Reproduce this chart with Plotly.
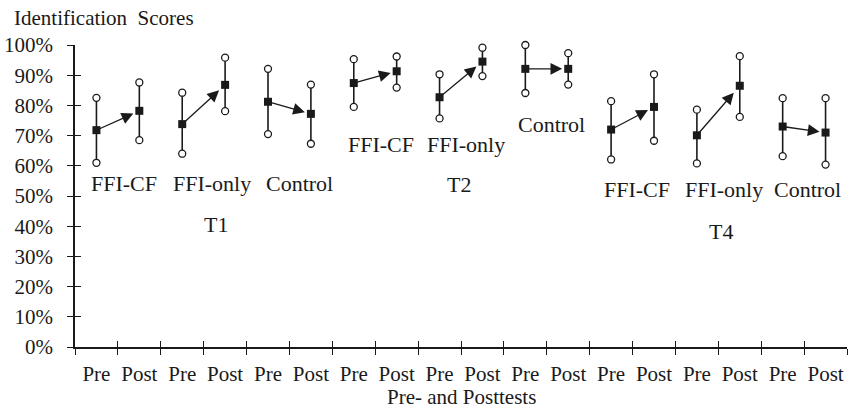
import plotly.graph_objects as go

# ---- data ----
groups = ["FFI-CF", "FFI-only", "Control", "FFI-CF", "FFI-only", "Control", "FFI-CF", "FFI-only", "Control"]
times = ["T1", "T2", "T4"]
phases = ["Pre", "Post"]

pre_mean = [71.8, 73.8, 81.2, 87.4, 82.7, 92.1, 72.0, 70.1, 73.0]
pre_upper = [82.5, 84.2, 92.1, 95.3, 90.3, 100.0, 81.4, 78.6, 82.4]
pre_lower = [61.0, 64.0, 70.5, 79.5, 75.7, 84.1, 62.1, 60.8, 63.2]
post_mean = [78.2, 86.8, 77.2, 91.3, 94.5, 92.1, 79.5, 86.5, 71.0]
post_upper = [87.6, 95.8, 86.9, 96.2, 99.1, 97.3, 90.3, 96.3, 82.4]
post_lower = [68.5, 78.1, 67.3, 85.9, 89.7, 86.9, 68.3, 76.2, 60.4]

y_ticks = [0, 10, 20, 30, 40, 50, 60, 70, 80, 90, 100]
y_ticktext = [f"{v}%" for v in y_ticks]

# ---- label placement (layout only) ----
group_label_y = [54.2, 54.2, 54.2, 66.9, 66.9, 73.8, 52.2, 52.2, 52.2]
group_label_dx = [0.15, 0.2, 0.23, 0.13, 0.12, 0.1, 0.1, 0.13, 0.09]
time_label_y = [40.5, 53.8, 38.4]
time_label_dx = [0.28, -0.05, 0.06]

FONT = "Liberation Serif"
INK = "#1a1a1a"
FS = 21
FS_LABEL = 22

n = len(groups)
cat_x = list(range(2 * n))
cat_text = [phases[i % 2] for i in cat_x]

# build error-bar style vertical lines
line_x, line_y = [], []
end_x, end_y = [], []
mean_x, mean_y = [], []
for g in range(n):
    for k, (m, u, l) in enumerate([(pre_mean[g], pre_upper[g], pre_lower[g]),
                                   (post_mean[g], post_upper[g], post_lower[g])]):
        xi = 2 * g + k
        line_x += [xi, xi, None]
        line_y += [l, u, None]
        end_x += [xi, xi]
        end_y += [l, u]
        mean_x.append(xi)
        mean_y.append(m)

fig = go.Figure()
fig.add_trace(go.Scatter(x=line_x, y=line_y, mode="lines",
                         line=dict(color=INK, width=1.6),
                         showlegend=False, hoverinfo="skip", cliponaxis=False))
fig.add_trace(go.Scatter(x=end_x, y=end_y, mode="markers",
                         marker=dict(symbol="circle", size=7, color="white",
                                     line=dict(color=INK, width=1.3)),
                         showlegend=False, hoverinfo="skip", cliponaxis=False))
fig.add_trace(go.Scatter(x=mean_x, y=mean_y, mode="markers",
                         marker=dict(symbol="square", size=8, color=INK),
                         showlegend=False, cliponaxis=False))
# invisible traces so the overlay axes (crossing ticks, labels) are drawn
fig.add_trace(go.Scatter(x=[0], y=[0], xaxis="x2", yaxis="y2", mode="markers",
                         marker=dict(opacity=0), showlegend=False, hoverinfo="skip"))
fig.add_trace(go.Scatter(x=[0], y=[0], xaxis="x3", yaxis="y", mode="markers",
                         marker=dict(opacity=0), showlegend=False, hoverinfo="skip"))

annotations = []
gap = 0.14
for g in range(n):
    x0, x1 = 2 * g, 2 * g + 1
    y0, y1 = pre_mean[g], post_mean[g]
    tip_x = x1 - gap
    tip_y = y0 + (y1 - y0) * (1 - gap)
    annotations.append(dict(x=tip_x, y=tip_y, ax=x0, ay=y0, xref="x", yref="y",
                            axref="x", ayref="y", showarrow=True, arrowhead=2,
                            arrowsize=1.8, arrowwidth=1.3, arrowcolor=INK,
                            standoff=0, startstandoff=0, text=""))
    annotations.append(dict(x=2 * g + 0.5 + group_label_dx[g], y=group_label_y[g],
                            xref="x", yref="y", text=groups[g], showarrow=False,
                            font=dict(family=FONT, size=FS_LABEL, color=INK)))
for t in range(len(times)):
    annotations.append(dict(x=6 * t + 2.5 + time_label_dx[t], y=time_label_y[t],
                            xref="x", yref="y", text=times[t], showarrow=False,
                            font=dict(family=FONT, size=FS_LABEL, color=INK)))
annotations.append(dict(x=(12 - 75) / 772, y=1.089, xref="paper", yref="paper",
                        xanchor="left", yanchor="middle",
                        text="Identification&nbsp;&nbsp;Scores",
                        showarrow=False, font=dict(family=FONT, size=FS, color=INK)))
annotations.append(dict(x=0.5, y=-0.166, xref="paper", yref="paper",
                        xanchor="center", yanchor="middle", text="Pre- and Posttests",
                        showarrow=False, font=dict(family=FONT, size=FS, color=INK)))

bounds = [i - 0.5 for i in range(2 * n + 1)]
xr = [-0.5, 2 * n - 0.5]

fig.update_layout(
    width=853, height=411,
    margin=dict(l=75, r=6, t=45, b=64, autoexpand=False),
    plot_bgcolor="white", paper_bgcolor="white",
    font=dict(family=FONT, size=FS, color=INK),
    annotations=annotations,
    xaxis=dict(range=xr, tickvals=bounds, showticklabels=False, ticks="outside",
               ticklen=6, tickwidth=1.4, tickcolor=INK, showline=True, linecolor=INK,
               linewidth=1.6, showgrid=False, zeroline=False, automargin=False),
    xaxis2=dict(range=xr, overlaying="x", anchor="y", side="bottom", tickvals=bounds,
                showticklabels=False, ticks="inside", ticklen=6, tickwidth=1.4,
                tickcolor=INK, showline=False, showgrid=False, zeroline=False,
                automargin=False),
    xaxis3=dict(range=xr, overlaying="x", anchor="y", side="bottom", tickvals=cat_x,
                ticktext=cat_text, ticks="", showline=False, showgrid=False,
                zeroline=False, ticklabelstandoff=12, automargin=False,
                tickfont=dict(family=FONT, size=FS, color=INK)),
    yaxis=dict(range=[0, 100], tickvals=y_ticks, ticktext=y_ticktext, ticks="outside",
               ticklen=6, tickwidth=1.4, tickcolor=INK, showline=True, linecolor=INK,
               linewidth=1.6, showgrid=False, zeroline=False, ticklabelstandoff=10,
               automargin=False, tickfont=dict(family=FONT, size=FS, color=INK)),
    yaxis2=dict(range=[0, 100], overlaying="y", anchor="x", side="left", tickvals=y_ticks,
                showticklabels=False, ticks="inside", ticklen=6, tickwidth=1.4,
                tickcolor=INK, showline=False, showgrid=False, zeroline=False,
                automargin=False),
)

fig.write_html("out.html",
               config={"displayModeBar": False},
               post_script="document.body.style.margin='0px';"
                           "document.body.style.padding='0px';"
                           "document.body.style.overflow='hidden';")
